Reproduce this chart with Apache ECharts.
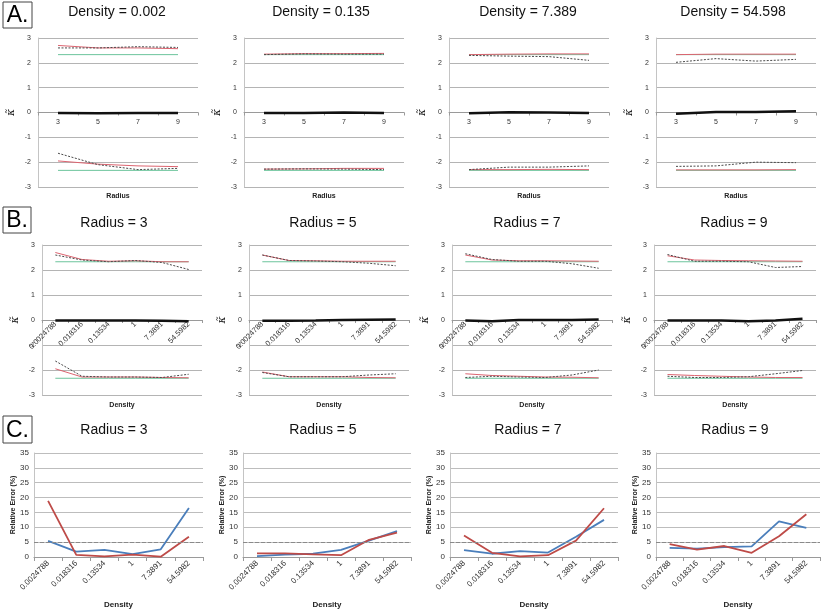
<!DOCTYPE html>
<html><head><meta charset="utf-8">
<script src="https://cdn.jsdelivr.net/npm/echarts@6/dist/echarts.min.js"></script>
<style>html,body{margin:0;padding:0;background:#fff}#c{width:822px;height:610px}</style>
</head><body><div id="c"></div>
<script>
// ---------- data ----------
const densityLabels = ['0.0024788', '0.018316', '0.13534', '1', '7.3891', '54.5982'];
const radiusLabels = ['3', '5', '7', '9'];
const densityTitles = ['0.002', '0.135', '7.389', '54.598'];
const densityPanelIndex = [0, 2, 4, 5];   // which density column each row-A panel shows
const radiusTitles = ['3', '5', '7', '9'];

// kappa-tilde estimates; rows = radius 3,5,7,9 ; columns = densityLabels
const meanKappa = [
  [-0.02, -0.02, -0.02, -0.02, -0.03, -0.05],
  [-0.03, -0.03, -0.02, 0.0, 0.01, 0.02],
  [-0.02, -0.05, 0.0, 0.0, 0.0, 0.02],
  [-0.02, -0.02, -0.02, -0.05, -0.02, 0.05]
];
const upperRed = [
  [2.70, 2.42, 2.35, 2.37, 2.33, 2.33],
  [2.60, 2.38, 2.37, 2.35, 2.35, 2.35],
  [2.60, 2.40, 2.37, 2.37, 2.36, 2.35],
  [2.57, 2.40, 2.38, 2.37, 2.36, 2.35]
];
const upperGray = [
  [2.60, 2.40, 2.33, 2.38, 2.30, 2.02],
  [2.60, 2.38, 2.36, 2.33, 2.27, 2.17],
  [2.65, 2.42, 2.35, 2.35, 2.25, 2.07],
  [2.62, 2.35, 2.35, 2.33, 2.10, 2.14]
];
const lowerRed = [
  [-1.95, -2.28, -2.28, -2.28, -2.30, -2.31],
  [-2.08, -2.27, -2.27, -2.27, -2.30, -2.31],
  [-2.15, -2.22, -2.25, -2.28, -2.29, -2.31],
  [-2.18, -2.22, -2.25, -2.28, -2.30, -2.30]
];
const lowerGray = [
  [-1.64, -2.25, -2.28, -2.28, -2.30, -2.17],
  [-2.10, -2.27, -2.27, -2.27, -2.20, -2.15],
  [-2.30, -2.25, -2.28, -2.30, -2.20, -2.00],
  [-2.25, -2.30, -2.30, -2.27, -2.15, -2.02]
];
const critUpperByDensity = [2.33, 2.33, 2.33, 2.33, 2.33, 2.33];
const critLowerByDensity = [-2.33, -2.33, -2.33, -2.33, -2.33, -2.33];
const critUpperByRadius = [2.33, 2.33, 2.33, 2.33];
const critLowerByRadius = [-2.33, -2.33, -2.33, -2.33];

// relative error (%) ; rows = radius 3,5,7,9
const errBlue = [
  [5.4, 1.8, 2.4, 1.0, 2.6, 16.5],
  [0.3, 0.8, 1.1, 2.4, 5.5, 8.7],
  [2.3, 1.1, 2.0, 1.5, 6.8, 12.5],
  [3.1, 2.8, 3.3, 3.6, 12.0, 9.8]
];
const errRed = [
  [18.9, 0.7, 0.2, 0.8, 0.1, 6.8],
  [1.2, 1.2, 0.9, 0.6, 5.8, 8.2],
  [7.2, 1.4, 0.2, 0.6, 5.5, 16.4],
  [4.3, 2.5, 3.7, 1.4, 7.0, 14.4]
];
const errThreshold = 5;

// ---------- layout / style ----------
const TITLE_FONT = '"Liberation Sans",Arial,sans-serif';
const LABEL_FONT = '"Liberation Sans",Arial,sans-serif';
const rowA = {top: 38, height: 149, lefts: [38, 244, 449, 656], widths: [160, 160, 160, 160], titleY: 12, titleX: [117, 321, 528, 733]};
const rowB = {top: 245, height: 150, lefts: [42, 249, 452, 654], widths: [160, 160, 160, 162], titleY: 223, titleX: [114, 323, 527, 734]};
const rowC = {top: 453, height: 112, lefts: [34, 243, 450, 656], widths: [169, 168, 168, 164], titleY: 430, titleX: [114, 323, 528, 735]};

const grids = [], xAxes = [], yAxes = [], series = [], graphics = [];

function kappaAxes(gi, cats, rotate, nameText, nameGap, halfHeight) {
  xAxes.push({
    gridIndex: gi, type: 'category', data: cats, boundaryGap: true,
    offset: -halfHeight,
    axisLine: {onZero: false, lineStyle: {color: '#9a9a9a', width: 1}},
    axisTick: {show: true, length: 3, lineStyle: {color: '#9a9a9a'}},
    axisLabel: {interval: 0, rotate: rotate, fontSize: rotate ? 7.5 : 7, color: '#333', margin: rotate ? 3 : 6, fontFamily: LABEL_FONT},
    splitLine: {show: false},
    name: nameText, nameLocation: 'middle', nameGap: nameGap,
    nameTextStyle: {fontSize: 7, fontWeight: 'bold', color: '#222', fontFamily: LABEL_FONT}
  });
  yAxes.push({
    gridIndex: gi, type: 'value', min: -3, max: 3, interval: 1,
    axisLine: {show: true, lineStyle: {color: '#c4c4c4'}},
    axisTick: {show: false},
    axisLabel: {fontSize: 7, color: '#333', margin: 7, fontFamily: LABEL_FONT},
    splitLine: {lineStyle: {color: '#b4b4b4', width: 1}},
    name: '\u03BA\u0303', nameLocation: 'middle', nameRotate: 90, nameGap: 21,
    nameTextStyle: {fontSize: 11, fontStyle: 'italic', color: '#222', fontFamily: '"DejaVu Serif",serif'}
  });
}

function kappaSeries(gi, crU, crL, rU, gU, rL, gL, mean) {
  const base = {type: 'line', xAxisIndex: gi, yAxisIndex: gi, symbol: 'none', showSymbol: false, silent: true};
  series.push(Object.assign({}, base, {data: crU, lineStyle: {color: '#6cc49c', width: 1}}));
  series.push(Object.assign({}, base, {data: crL, lineStyle: {color: '#6cc49c', width: 1}}));
  series.push(Object.assign({}, base, {data: rU, lineStyle: {color: '#dc6470', width: 1}}));
  series.push(Object.assign({}, base, {data: rL, lineStyle: {color: '#dc6470', width: 1}}));
  series.push(Object.assign({}, base, {data: gU, lineStyle: {color: '#4a4a4a', width: 1, type: [2, 1.5]}}));
  series.push(Object.assign({}, base, {data: gL, lineStyle: {color: '#4a4a4a', width: 1, type: [2, 1.5]}}));
  series.push(Object.assign({}, base, {data: mean, lineStyle: {color: '#111', width: 2.4}}));
}

function titleText(txt, x, y) {
  graphics.push({type: 'text', x: x, y: y, style: {text: txt, align: 'center', verticalAlign: 'middle', textAlign: 'center', textVerticalAlign: 'middle', font: '14px ' + TITLE_FONT, fill: '#111'}});
}
function letterBox(txt, x, y, w, h) {
  graphics.push({type: 'rect', shape: {x: x, y: y, width: w, height: h}, style: {fill: '#fff', stroke: '#444', lineWidth: 1}});
  graphics.push({type: 'text', x: x + w / 2, y: y + h / 2 + 1, style: {text: txt, align: 'center', verticalAlign: 'middle', textAlign: 'center', textVerticalAlign: 'middle', font: '23px ' + LABEL_FONT, fill: '#000'}});
}

// Row A : density fixed, x = radius
for (let p = 0; p < 4; p++) {
  const gi = grids.length;
  grids.push({left: rowA.lefts[p], top: rowA.top, width: rowA.widths[p], height: rowA.height});
  kappaAxes(gi, radiusLabels, 0, 'Radius', 80, rowA.height / 2);
  const d = densityPanelIndex[p];
  const col = arr => arr.map(row => row[d]);
  kappaSeries(gi, critUpperByRadius, critLowerByRadius, col(upperRed), col(upperGray), col(lowerRed), col(lowerGray), col(meanKappa));
  titleText('Density = ' + densityTitles[p], rowA.titleX[p], rowA.titleY);
}
// Row B : radius fixed, x = density
for (let p = 0; p < 4; p++) {
  const gi = grids.length;
  grids.push({left: rowB.lefts[p], top: rowB.top, width: rowB.widths[p], height: rowB.height});
  kappaAxes(gi, densityLabels, 45, 'Density', 82, rowB.height / 2);
  kappaSeries(gi, critUpperByDensity, critLowerByDensity, upperRed[p], upperGray[p], lowerRed[p], lowerGray[p], meanKappa[p]);
  titleText('Radius = ' + radiusTitles[p], rowB.titleX[p], rowB.titleY);
}
// Row C : relative error
for (let p = 0; p < 4; p++) {
  const gi = grids.length;
  grids.push({left: rowC.lefts[p], top: rowC.top, width: rowC.widths[p], height: rowC.height});
  xAxes.push({
    gridIndex: gi, type: 'category', data: densityLabels, boundaryGap: true,
    axisLine: {lineStyle: {color: '#9a9a9a'}},
    axisTick: {show: true, length: 4, lineStyle: {color: '#9a9a9a'}},
    axisLabel: {interval: 0, rotate: 45, fontSize: 8, color: '#333', margin: 5, fontFamily: LABEL_FONT},
    name: 'Density', nameLocation: 'middle', nameGap: 44,
    nameTextStyle: {fontSize: 8, fontWeight: 'bold', color: '#222', fontFamily: LABEL_FONT}
  });
  yAxes.push({
    gridIndex: gi, type: 'value', min: 0, max: 35, interval: 5,
    axisLine: {show: true, lineStyle: {color: '#c4c4c4'}},
    axisTick: {show: false},
    axisLabel: {fontSize: 8, color: '#333', margin: 5, fontFamily: LABEL_FONT},
    splitLine: {lineStyle: {color: '#bdbdbd'}},
    name: 'Relative Error (%)', nameLocation: 'middle', nameRotate: 90, nameGap: 16,
    nameTextStyle: {fontSize: 7, fontWeight: 'bold', color: '#222', fontFamily: LABEL_FONT}
  });
  series.push({type: 'line', xAxisIndex: gi, yAxisIndex: gi, symbol: 'none', data: errBlue[p], lineStyle: {color: '#4a7ebb', width: 1.8},
    markLine: {silent: true, symbol: 'none', label: {show: false}, lineStyle: {color: '#8a8a8a', type: [4, 2], width: 1}, data: [{yAxis: errThreshold}]}});
  series.push({type: 'line', xAxisIndex: gi, yAxisIndex: gi, symbol: 'none', data: errRed[p], lineStyle: {color: '#be4b48', width: 1.8}});
  titleText('Radius = ' + radiusTitles[p], rowC.titleX[p], rowC.titleY);
}

letterBox('A.', 3, 2, 29, 26);
letterBox('B.', 3, 207, 28, 26);
letterBox('C.', 3, 416, 29, 27);

const chart = echarts.init(document.getElementById('c'), null, {renderer: 'canvas'});
chart.setOption({
  backgroundColor: '#fff',
  animation: false,
  grid: grids, xAxis: xAxes, yAxis: yAxes, series: series,
  graphic: graphics
});
</script>
</body></html>
